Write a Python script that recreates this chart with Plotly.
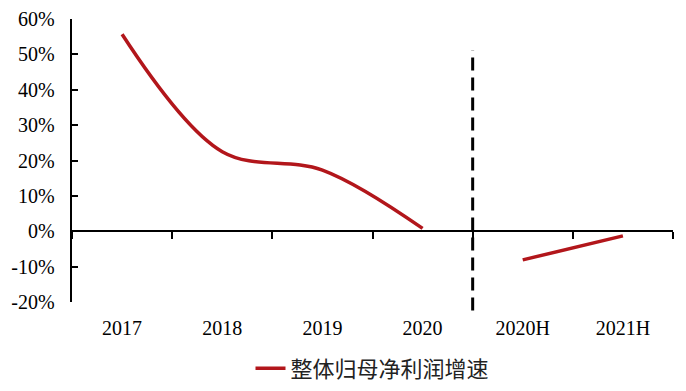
import plotly.graph_objects as go

categories = ["2017", "2018", "2019", "2020", "2020H", "2021H"]
annual_x = ["2017", "2018", "2019", "2020"]
annual_growth = [55.7, 22.5, 17.3, 0.8]
half_x = ["2020H", "2021H"]
half_growth = [-8.1, -1.3]
y_ticks = [-20, -10, 0, 10, 20, 30, 40, 50, 60]
y_tick_labels = [f"{v}%" for v in y_ticks]
series_name = "整体归母净利润增速"

red = "#B2161B"
serif = "Liberation Serif"
label_pad = "\u2002\u200a"  # keeps y labels clear of the axis line

fig = go.Figure()
fig.add_trace(go.Scatter(
    x=annual_x, y=annual_growth, mode="lines", name=series_name,
    line=dict(color=red, width=3.5, shape="spline", smoothing=1.0),
    legendgroup="g", showlegend=True))
fig.add_trace(go.Scatter(
    x=half_x, y=half_growth, mode="lines", name=series_name,
    line=dict(color=red, width=3.5),
    legendgroup="g", showlegend=False))
# carrier for the zero-line axis with category-boundary ticks
fig.add_trace(go.Scatter(
    x=categories, y=[None] * len(categories), mode="lines", xaxis="x2",
    showlegend=False, hoverinfo="skip"))

# divider between annual and half-year data
div_x = categories.index("2020") + 0.5
fig.add_shape(type="line", xref="x", yref="paper",
              x0=div_x, x1=div_x, y0=-0.03, y1=0.89,
              line=dict(color="black", width=3, dash="13px,7px"))

fig.update_layout(
    width=670, height=375,
    margin=dict(l=64, r=5, t=11, b=81, autoexpand=False),
    font=dict(family=serif, size=20, color="black"),
    paper_bgcolor="white", plot_bgcolor="white",
    showlegend=True,
    legend=dict(orientation="h", x=0.5, xanchor="center", y=-0.235, yanchor="middle",
                font=dict(family="Noto Sans CJK SC", size=22, color="#222")),
    xaxis=dict(type="category", categoryorder="array", categoryarray=categories,
               range=[-0.5, 5.5], showline=False, ticks="", showgrid=False,
               zeroline=False, tickfont=dict(family=serif, size=20, color="black"),
               ticklabelstandoff=12),
    xaxis2=dict(type="category", categoryorder="array", categoryarray=categories,
                range=[-0.5, 5.5], overlaying="x", anchor="free", position=0.25,
                showline=True, linecolor="black", linewidth=1.5,
                ticks="outside", tickson="boundaries", ticklen=7, tickwidth=1.5,
                tickcolor="black", showticklabels=False, showgrid=False, zeroline=False),
)
fig.update_yaxes(range=[-20, 60], tickmode="array", tickvals=y_ticks,
                 ticktext=[t + label_pad for t in y_tick_labels],
                 showline=True, linecolor="black", linewidth=1.5,
                 ticks="inside", ticklen=6, tickwidth=1.5, tickcolor="black",
                 showgrid=False, zeroline=False,
                 tickfont=dict(family=serif, size=20, color="black"))
fig.write_html("out.html")
